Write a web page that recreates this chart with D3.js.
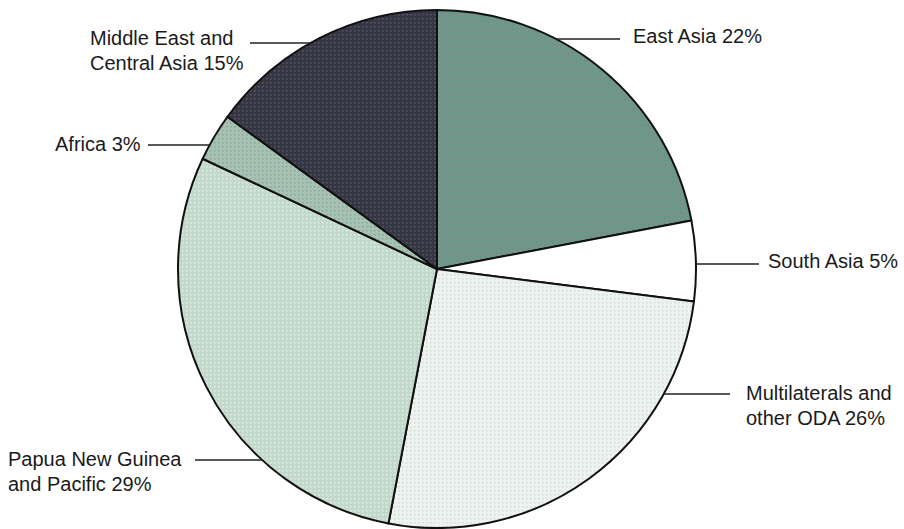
<!DOCTYPE html>
<html>
<head>
<meta charset="utf-8">
<script src="https://cdn.jsdelivr.net/npm/d3@7"></script>
<style>
  body { margin: 0; background: #fff; }
  svg { display: block; }
  text { font-family: "Liberation Sans", Arial, sans-serif; font-size: 20px; fill: #1a1a1a; }
</style>
</head>
<body>
<svg id="chart" width="904" height="529"></svg>
<script>
// data
const regions = ["East Asia", "South Asia", "Multilaterals and other ODA",
  "Papua New Guinea and Pacific", "Africa", "Middle East and Central Asia"];
const shares = [22, 5, 26, 29, 3, 15];
const labelLines = [
  ["East Asia 22%"],
  ["South Asia 5%"],
  ["Multilaterals and", "other ODA 26%"],
  ["Papua New Guinea", "and Pacific 29%"],
  ["Africa 3%"],
  ["Middle East and", "Central Asia 15%"]
];

// fill: base colour + dot colour for the screen texture
const fills = [
  { base: "#6a9885", dot: "#8a8fa0" },
  { base: "#ffffff", dot: "#ffffff" },
  { base: "#eef3f0", dot: "#cfdcdc" },
  { base: "#c3d8cc", dot: "#e0f2e4" },
  { base: "#a6c2b3", dot: "#8aa49a" },
  { base: "#363642", dot: "#5a5a6c" }
];

// label layout: y of leader, x where line meets text, text x/baseline, side
const labelPos = [
  { y: 39, lineX: 620, textX: 633, textY: 43, side: "right" },
  { y: 264, lineX: 759, textX: 768, textY: 268, side: "right" },
  { y: 394, lineX: 730, textX: 746, textY: 400, side: "right" },
  { y: 460, lineX: 195, textX: 8, textY: 466, side: "left" },
  { y: 145, lineX: 148, textX: 55, textY: 151, side: "left" },
  { y: 43, lineX: 250, textX: 90, textY: 45, side: "left" }
];

const svg = d3.select("#chart");
const cx = 437, cy = 269, radius = 259;

// patterns
const defs = svg.append("defs");
fills.forEach((f, i) => {
  const p = defs.append("pattern")
    .attr("id", "pat" + i)
    .attr("width", 4).attr("height", 4)
    .attr("patternUnits", "userSpaceOnUse");
  p.append("rect").attr("width", 4).attr("height", 4).attr("fill", f.base);
  p.append("rect").attr("x", 1).attr("y", 1).attr("width", 1.5).attr("height", 1.5).attr("fill", f.dot);
});

const pie = d3.pie().sort(null).value(d => d)
  .startAngle(0).endAngle(2 * Math.PI);
const arc = d3.arc().innerRadius(0).outerRadius(radius);
const arcs = pie(shares);

const g = svg.append("g").attr("transform", `translate(${cx},${cy})`);

g.selectAll("path.slice")
  .data(arcs)
  .join("path")
  .attr("class", "slice")
  .attr("d", arc)
  .attr("fill", (d, i) => `url(#pat${i})`)
  .attr("stroke", "#111")
  .attr("stroke-width", 2)
  .attr("stroke-linejoin", "round");

// leader lines from pie edge at the label's height
labelPos.forEach((p, i) => {
  const dy = p.y - cy;
  const dx = Math.sqrt(Math.max(0, radius * radius - dy * dy));
  const edgeX = p.side === "right" ? cx + dx : cx - dx;
  svg.append("line")
    .attr("x1", edgeX).attr("y1", p.y)
    .attr("x2", p.lineX).attr("y2", p.y)
    .attr("stroke", "#222")
    .attr("stroke-width", 1.5);

  const t = svg.append("text")
    .attr("x", p.textX)
    .attr("y", p.textY);
  labelLines[i].forEach((line, j) => {
    t.append("tspan")
      .attr("x", p.textX)
      .attr("dy", j === 0 ? 0 : 25)
      .text(line);
  });
});
</script>
</body>
</html>
